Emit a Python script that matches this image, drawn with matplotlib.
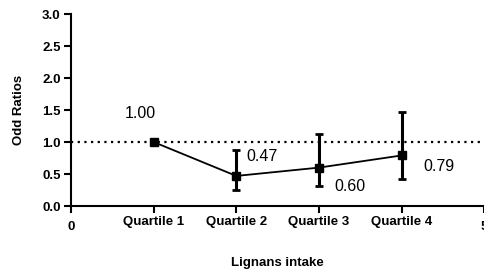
import numpy as np
import matplotlib.pyplot as plt

plt.rcParams['font.family'] = ['Liberation Sans', 'DejaVu Sans']

quartiles = ['Quartile 1', 'Quartile 2', 'Quartile 3', 'Quartile 4']
x_pos = [1, 2, 3, 4]
odds = [1.00, 0.47, 0.60, 0.79]
lower = [1.00, 0.25, 0.31, 0.42]
upper = [1.00, 0.87, 1.13, 1.47]
labels = ['1.00', '0.47', '0.60', '0.79']
label_x = [0.84, 2.31, 3.37, 4.45]
label_y = [1.44, 0.78, 0.30, 0.61]

fig = plt.figure(figsize=(4.85, 2.7), dpi=100)
ax = fig.add_axes([0.1464, 0.237, 0.852, 0.711])

err = [np.array(odds) - np.array(lower), np.array(upper) - np.array(odds)]
ax.errorbar(x_pos[1:], odds[1:], yerr=[err[0][1:], err[1][1:]], fmt='none',
            ecolor='black', elinewidth=2.2, capsize=2.8, capthick=2)
ax.plot(x_pos, odds, color='black', lw=1.3, marker='s', ms=6, zorder=3)
ax.axhline(1.0, color='black', ls=(0, (1, 2)), lw=1.6, zorder=1)

for lx, ly, t in zip(label_x, label_y, labels):
    ax.text(lx, ly, t, ha='center', va='center', fontsize=11.5)

ax.set_xlim(0, 5)
ax.set_ylim(0, 3)
ax.set_xticks([0, 1, 2, 3, 4, 5])
ax.set_xticklabels(['0'] + quartiles + ['5'], fontweight='bold', fontsize=9.5)
ax.set_yticks(np.arange(0, 3.01, 0.5))
ax.set_yticklabels(['%.1f' % v for v in np.arange(0, 3.01, 0.5)], fontweight='bold', fontsize=9.5)
for lab in ax.get_xticklabels()[::5]:
    lab.set_y(-0.025)

ax.spines['top'].set_visible(False)
ax.spines['right'].set_visible(False)
ax.spines['left'].set_linewidth(1.5)
ax.spines['bottom'].set_linewidth(1.5)
ax.tick_params(direction='out', length=5, width=1.5, pad=2.5)

ax.set_xlabel('Lignans intake', fontweight='bold', fontsize=9.5, labelpad=17)
ax.set_ylabel('Odd Ratios', fontweight='bold', fontsize=9.5, labelpad=12)

fig.savefig('out.png', dpi=100)
